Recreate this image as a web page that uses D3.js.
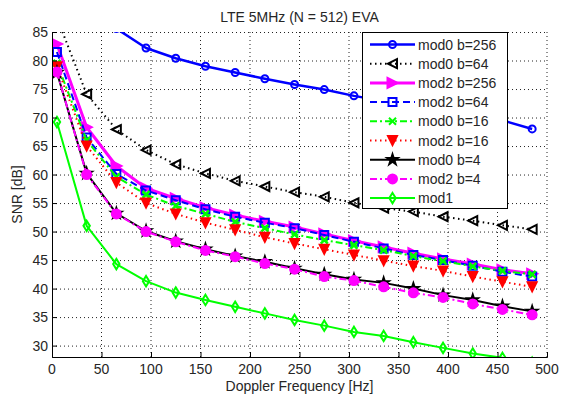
<!DOCTYPE html>
<html>
<head>
<meta charset="utf-8">
<script src="https://cdn.jsdelivr.net/npm/d3@7"></script>
<style>
    html, body { margin: 0; padding: 0; background: #fff; overflow: hidden; }
    svg { display: block; font-family: "Liberation Sans", Arial, sans-serif; }
</style>
</head>
<body>
<div id="chart"></div>
<script>
// Doppler frequency sweep, SNR per config

const freqs = [5, 35, 65, 95, 125, 155, 185, 215, 245, 275, 305, 335, 365, 395, 425, 455, 485];
const xTicks = [0, 50, 100, 150, 200, 250, 300, 350, 400, 450, 500];
const yTicks = [30, 35, 40, 45, 50, 55, 60, 65, 70, 75, 80, 85];

const mod0B256 = [110, 93, 85.6, 82.2, 80.4, 79.0, 77.9, 76.8, 75.8, 74.9, 73.8, 72.9, 72.0, 71.1, 70.3, 69.5, 68.0];
const mod0B64 = [87.5, 74.1, 67.9, 64.3, 61.8, 60.2, 58.9, 57.9, 56.9, 56.1, 55.05, 54.1, 53.5, 52.6, 51.9, 51.1, 50.4];
const mod2B256 = [82.9, 68.3, 61.5, 57.6, 55.8, 54.2, 52.9, 51.8, 50.8, 49.6, 48.4, 47.3, 46.2, 45.2, 44.3, 43.3, 42.6];
const mod2B64 = [81.5, 66.5, 60.1, 57.2, 55.5, 53.9, 52.6, 51.55, 50.6, 49.4, 48.2, 47.05, 45.9, 45.0, 44.0, 42.95, 42.1];
const mod0B16 = [79.5, 66.0, 59.6, 56.5, 54.5, 53.1, 51.7, 50.6, 49.5, 48.5, 47.6, 46.75, 45.7, 44.8, 43.9, 43.1, 42.5];
const mod2B16 = [78.9, 65.0, 58.6, 55.0, 53.1, 51.55, 50.3, 49.0, 47.9, 46.9, 45.9, 44.9, 43.95, 43.1, 42.1, 41.2, 40.3];
const mod0B4 = [77.9, 60.2, 53.2, 50.1, 48.3, 46.9, 45.7, 44.7, 43.55, 42.5, 41.6, 41.0, 40.0, 38.85, 38.0, 36.9, 36.0];
const mod2B4 = [78.0, 60.0, 53.1, 50.0, 48.2, 46.7, 45.6, 44.4, 43.4, 42.1, 41.4, 40.3, 39.25, 38.45, 37.3, 36.35, 35.4];
const mod1 = [69.2, 51.0, 44.3, 41.3, 39.3, 38.0, 36.8, 35.65, 34.5, 33.5, 32.4, 31.7, 30.6, 29.6, 28.6, 27.85, 27.0];

const seriesNames = ["mod0 b=256", "mod0 b=64", "mod2 b=256", "mod2 b=64", "mod0 b=16", "mod2 b=16", "mod0 b=4", "mod2 b=4", "mod1"];
const seriesValues = [mod0B256, mod0B64, mod2B256, mod2B64, mod0B16, mod2B16, mod0B4, mod2B4, mod1];

// line / marker look per series (same order as names)
const seriesStyle = [
    { color: "#0000ff", width: 2.5, dash: null, marker: "circle", fill: false, size: 3.5 },
    { color: "#000000", width: 2, dash: "1.5,3.5", marker: "triLeft", fill: false, size: 4.5 },
    { color: "#ff00ff", width: 3, dash: null, marker: "triRight", fill: true, size: 5 },
    { color: "#0000ff", width: 2, dash: "7,4", marker: "square", fill: false, size: 4 },
    { color: "#00ff00", width: 2, dash: "7,3,2,3", marker: "cross", fill: false, size: 3.5 },
    { color: "#ff0000", width: 2, dash: "1.5,3.5", marker: "triDown", fill: true, size: 4.5 },
    { color: "#000000", width: 2, dash: null, marker: "star", fill: true, size: 3.2 },
    { color: "#ff00ff", width: 2, dash: "7,3,2,3", marker: "circle", fill: true, size: 4.5 },
    { color: "#00ff00", width: 2, dash: null, marker: "diamond", fill: false, size: 4 }
];

const width = 561;
const height = 398;
const margin = { top: 32, right: 14, bottom: 41, left: 52 };
const innerWidth = width - margin.left - margin.right;
const innerHeight = height - margin.top - margin.bottom;
const textColor = "#262626";

const x = d3.scaleLinear().domain([0, 500]).range([margin.left, margin.left + innerWidth]);
const y = d3.scaleLinear().domain([28, 85]).range([margin.top + innerHeight, margin.top]);

function markerPath(type, s) {
    switch (type) {
        case "circle":
            return `M${s},0A${s},${s} 0 1,1 ${-s},0A${s},${s} 0 1,1 ${s},0Z`;
        case "square":
            return `M${-s},${-s}H${s}V${s}H${-s}Z`;
        case "triLeft":
            return `M${-s},0L${s},${-s}L${s},${s}Z`;
        case "triRight":
            return `M${s},0L${-s},${-s}L${-s},${s}Z`;
        case "triDown":
            return `M0,${s}L${-s},${-s}L${s},${-s}Z`;
        case "diamond":
            return `M0,${-s * 1.3}L${s * 0.8},0L0,${s * 1.3}L${-s * 0.8},0Z`;
        case "cross":
            return `M${-s},${-s}L${s},${s}M${-s},${s}L${s},${-s}`;
        case "star":
            return d3.symbol(d3.symbolStar, s * s * 3.2)();
        default:
            return "";
    }
}

const svg = d3.select("#chart").append("svg")
    .attr("width", width)
    .attr("height", height)
    .attr("viewBox", `0 0 ${width} ${height}`);

svg.append("defs").append("clipPath")
    .attr("id", "plot-clip")
    .append("rect")
    .attr("x", margin.left)
    .attr("y", margin.top)
    .attr("width", innerWidth)
    .attr("height", innerHeight);

// grid
const grid = svg.append("g").attr("class", "grid");
grid.selectAll("line.gx").data(xTicks.filter(d => d > 0)).join("line")
    .attr("class", "gx")
    .attr("x1", d => x(d)).attr("x2", d => x(d))
    .attr("y1", margin.top).attr("y2", margin.top + innerHeight)
    .attr("stroke", "#222").attr("stroke-width", 1).attr("stroke-dasharray", "1,3");
grid.selectAll("line.gy").data(yTicks).join("line")
    .attr("class", "gy")
    .attr("x1", margin.left).attr("x2", margin.left + innerWidth)
    .attr("y1", d => y(d) + 0.5).attr("y2", d => y(d) + 0.5)
    .attr("stroke", "#222").attr("stroke-width", 1).attr("stroke-dasharray", "1,3");

// series
const plot = svg.append("g").attr("clip-path", "url(#plot-clip)");
const line = d3.line().x((d, i) => x(freqs[i])).y(d => y(d));

seriesValues.forEach((values, k) => {
    const st = seriesStyle[k];
    const g = plot.append("g").attr("class", "series");
    g.append("path")
        .datum(values)
        .attr("d", line)
        .attr("fill", "none")
        .attr("stroke", st.color)
        .attr("stroke-width", st.width)
        .attr("stroke-dasharray", st.dash)
        .attr("stroke-linejoin", "round");
    g.selectAll("path.mk").data(values).join("path")
        .attr("class", "mk")
        .attr("transform", (d, i) => `translate(${x(freqs[i])},${y(d)})`)
        .attr("d", markerPath(st.marker, st.size))
        .attr("fill", st.fill ? st.color : "none")
        .attr("stroke", st.color)
        .attr("stroke-width", st.marker === "cross" ? 2.5 : 2);
});

// axes: tick marks point inward, labels drawn separately
const xAxis = svg.append("g")
    .attr("transform", `translate(0,${margin.top + innerHeight})`)
    .call(d3.axisBottom(x).tickValues(xTicks).tickSize(-5).tickFormat(""));
const yAxis = svg.append("g")
    .attr("transform", `translate(${margin.left},0)`)
    .call(d3.axisLeft(y).tickValues(yTicks).tickSize(-5).tickFormat(""));

[xAxis, yAxis].forEach(ax => {
    ax.select(".domain").attr("stroke", "#000").attr("stroke-width", 1);
    ax.selectAll(".tick line").attr("stroke", "#000");
    ax.selectAll(".tick text").remove();
});

svg.append("g").selectAll("text").data(xTicks).join("text")
    .attr("x", d => x(d))
    .attr("y", margin.top + innerHeight + 17)
    .attr("text-anchor", "middle")
    .attr("fill", textColor)
    .style("font-size", "14px")
    .text(d => d);

svg.append("g").selectAll("text").data(yTicks).join("text")
    .attr("x", margin.left - 4)
    .attr("y", d => y(d) + 5)
    .attr("text-anchor", "end")
    .attr("fill", textColor)
    .style("font-size", "14px")
    .text(d => d);

// titles
svg.append("text")
    .attr("x", margin.left + innerWidth / 2)
    .attr("y", 22)
    .attr("text-anchor", "middle")
    .attr("fill", textColor)
    .style("font-size", "14px")
    .text("LTE 5MHz (N = 512) EVA");

svg.append("text")
    .attr("x", margin.left + innerWidth / 2)
    .attr("y", 391)
    .attr("text-anchor", "middle")
    .attr("fill", textColor)
    .style("font-size", "14px")
    .text("Doppler Frequency [Hz]");

const yLabelX = 22;
const yLabelY = margin.top + innerHeight / 2;
svg.append("text")
    .attr("x", yLabelX)
    .attr("y", yLabelY)
    .attr("transform", `rotate(-90 ${yLabelX} ${yLabelY})`)
    .attr("text-anchor", "middle")
    .attr("fill", textColor)
    .style("font-size", "14px")
    .text("SNR [dB]");

// legend
const legendX = 362;
const legendY = 32;
const legend = svg.append("g");
legend.append("rect")
    .attr("x", legendX + 0.5).attr("y", legendY + 0.5)
    .attr("width", 145).attr("height", 176)
    .attr("fill", "#fff")
    .attr("stroke", "#000")
    .attr("stroke-width", 1);

const rowY = i => legendY + 12.5 + i * 19.2;

legend.selectAll("line.lg").data(seriesNames).join("line")
    .attr("class", "lg")
    .attr("x1", legendX + 8).attr("x2", legendX + 53)
    .attr("y1", (d, i) => rowY(i)).attr("y2", (d, i) => rowY(i))
    .attr("stroke", (d, i) => seriesStyle[i].color)
    .attr("stroke-width", (d, i) => seriesStyle[i].width)
    .attr("stroke-dasharray", (d, i) => seriesStyle[i].dash);

legend.selectAll("path.lg").data(seriesNames).join("path")
    .attr("class", "lg")
    .attr("transform", (d, i) => `translate(${legendX + 30.5},${rowY(i)})`)
    .attr("d", (d, i) => markerPath(seriesStyle[i].marker, seriesStyle[i].size))
    .attr("fill", (d, i) => seriesStyle[i].fill ? seriesStyle[i].color : "none")
    .attr("stroke", (d, i) => seriesStyle[i].color)
    .attr("stroke-width", 2);

legend.selectAll("text").data(seriesNames).join("text")
    .attr("x", legendX + 56)
    .attr("y", (d, i) => rowY(i) + 5)
    .attr("fill", textColor)
    .style("font-size", "14px")
    .text(d => d);
</script>
</body>
</html>
